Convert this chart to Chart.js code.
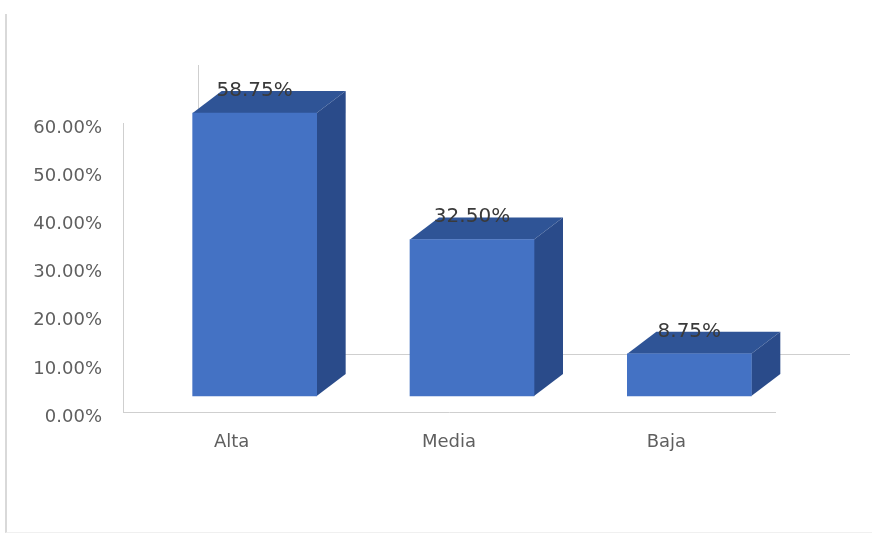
<!DOCTYPE html>
<html>
<head>
<meta charset="utf-8">
<script src="https://cdn.jsdelivr.net/npm/chart.js@4/dist/chart.umd.min.js"></script>
<style>
    body { margin: 0; background: #fff; }
    #wrap { position: relative; width: 872px; height: 536px; }
    #frame {
        position: absolute; left: 5px; top: 14px; width: 867px; height: 518px;
        border-left: 2px solid #d9d9d9; border-bottom: 1px solid #f0f0f0;
    }
    #nivel { position: absolute; left: 0; top: 0; }
</style>
</head>
<body>
<div id="wrap">
    <div id="frame"></div>
    <canvas id="nivel" width="872" height="536"></canvas>
</div>
<script>
var categorias = ['Alta', 'Media', 'Baja'];
var porcentajes = [58.75, 32.50, 8.75];
var yMax = 60;
var yStep = 10;

var azul = '#4472C4';
var azulTapa = '#2F5496';
var azulLado = '#2A4B8A';
var gris = '#cfcfcf';

// oblique depth of the floor / back wall and of each column
var fondo = { dx: 75, dy: -58 };
var medio = { dx: 23, dy: -16 };
var prof = { dx: 29, dy: -22 };

var pared = {
    id: 'pared',
    beforeDatasetsDraw(chart) {
        var a = chart.chartArea;
        var ctx = chart.ctx;
        ctx.save();
        ctx.strokeStyle = gris;
        ctx.lineWidth = 1;
        ctx.beginPath();
        ctx.moveTo(a.left + fondo.dx + 0.5, a.top + fondo.dy);
        ctx.lineTo(a.left + fondo.dx + 0.5, a.bottom + fondo.dy + 0.5);
        ctx.lineTo(a.right + fondo.dx, a.bottom + fondo.dy + 0.5);
        ctx.stroke();
        ctx.restore();

        // columns sit halfway into the floor
        ctx.save();
        ctx.translate(medio.dx, medio.dy);
        chart.getDatasetMeta(0).data.forEach(function (bar) {
            var l = bar.x - bar.width / 2;
            var r = bar.x + bar.width / 2;
            ctx.fillStyle = azulTapa;
            ctx.beginPath();
            ctx.moveTo(l, bar.y);
            ctx.lineTo(l + prof.dx, bar.y + prof.dy);
            ctx.lineTo(r + prof.dx, bar.y + prof.dy);
            ctx.lineTo(r, bar.y);
            ctx.closePath();
            ctx.fill();
            ctx.fillStyle = azulLado;
            ctx.beginPath();
            ctx.moveTo(r, bar.y);
            ctx.lineTo(r + prof.dx, bar.y + prof.dy);
            ctx.lineTo(r + prof.dx, bar.base + prof.dy);
            ctx.lineTo(r, bar.base);
            ctx.closePath();
            ctx.fill();
        });
    },
    afterDatasetsDraw(chart) {
        var ctx = chart.ctx;
        ctx.restore();

        ctx.save();
        ctx.font = '20px "DejaVu Sans"';
        ctx.fillStyle = '#3a3a3a';
        ctx.textAlign = 'center';
        ctx.textBaseline = 'alphabetic';
        chart.getDatasetMeta(0).data.forEach(function (bar, i) {
            ctx.fillText(porcentajes[i].toFixed(2) + '%',
                bar.x + medio.dx, bar.y + medio.dy + prof.dy + 5);
        });
        ctx.restore();
    }
};

var ctx = document.getElementById('nivel').getContext('2d');
var grafico = new Chart(ctx, {
    type: 'bar',
    data: {
        labels: categorias,
        datasets: [{
            data: porcentajes,
            backgroundColor: azul,
            barThickness: 124,
            clip: false
        }]
    },
    options: {
        responsive: false,
        animation: false,
        events: [],
        layout: { padding: { top: 123, right: 97, left: 0, bottom: 0 } },
        plugins: {
            legend: { display: false },
            tooltip: { enabled: false }
        },
        scales: {
            x: {
                grid: { display: false, drawTicks: false },
                border: { display: true, color: gris },
                ticks: {
                    color: '#5f5f5f',
                    font: { family: 'DejaVu Sans', size: 18 },
                    padding: 20
                },
                afterFit(scale) { scale.height = 124; }
            },
            y: {
                min: 0,
                max: yMax,
                grid: { display: false, drawTicks: false },
                border: { display: true, color: gris },
                ticks: {
                    stepSize: yStep,
                    color: '#5f5f5f',
                    font: { family: 'DejaVu Sans', size: 18 },
                    padding: 21,
                    labelOffset: 5,
                    callback: function (v) { return v.toFixed(2) + '%'; }
                },
                afterFit(scale) { scale.width = 123; }
            }
        }
    },
    plugins: [pared]
});
</script>
</body>
</html>
